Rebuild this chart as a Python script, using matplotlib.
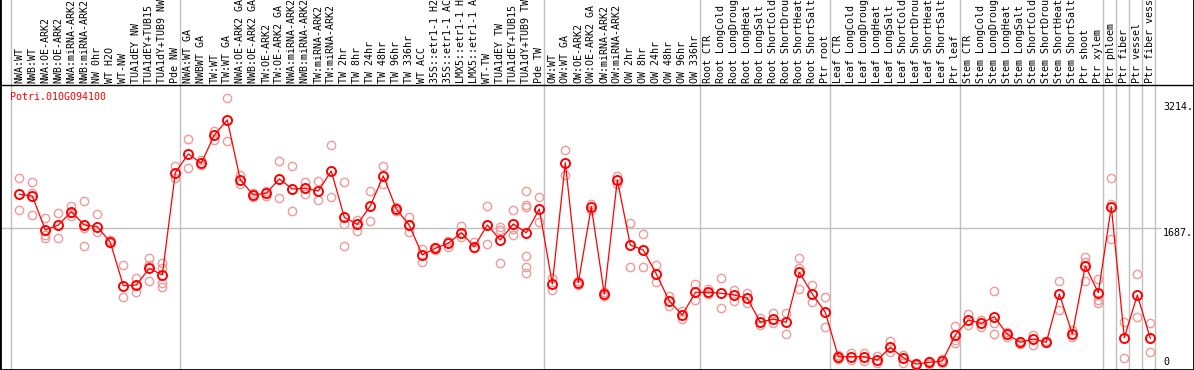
import numpy as np
import matplotlib
matplotlib.use('Agg')
import matplotlib.pyplot as plt

gene = 'Potri.010G094100'

samples = [
    'NWA:WT', 'NWB:WT', 'NWA:OE-ARK2', 'NWB:OE-ARK2', 'NWA:miRNA-ARK2', 'NWB:miRNA-ARK2',
    'NW 0hr', 'WT H2O', 'WT-NW', 'TUA1dEY NW', 'TUA1dEY+TUB15 NW', 'TUA1dY+TUB9 NW', 'Pde NW',
    'NWA:WT GA', 'NWBWT GA', 'TW:WT', 'TW:WT GA', 'NWA:OE-ARK2 GA', 'NWB:OE-ARK2 GA',
    'TW:OE-ARK2', 'TW:OE-ARK2 GA', 'NWA:miRNA-ARK2 GA', 'NWB:miRNA-ARK2 GA', 'TW:miRNA-ARK2',
    'TW:miRNA-ARK2 GA', 'TW 2hr', 'TW 8hr', 'TW 24hr', 'TW 48hr', 'TW 96hr', 'TW 336hr',
    'WT ACC', '35S::etr1-1 H2O', '35S::etr1-1 ACC', 'LMX5::etr1-1 H2O', 'LMX5::etr1-1 ACC',
    'WT-TW', 'TUA1dEY TW', 'TUA1dEY+TUB15 TW', 'TUA1dY+TUB9 TW', 'Pde TW',
    'OW:WT', 'OW:WT GA', 'OW:OE-ARK2', 'OW:OE-ARK2 GA', 'OW:miRNA-ARK2', 'OW:miRNA-ARK2 GA',
    'OW 2hr', 'OW 8hr', 'OW 24hr', 'OW 48hr', 'OW 96hr', 'OW 336hr',
    'Root CTR', 'Root LongCold', 'Root LongDrought', 'Root LongHeat', 'Root LongSalt',
    'Root ShortCold', 'Root ShortDrought', 'Root ShortHeat', 'Root ShortSalt', 'Ptr root',
    'Leaf CTR', 'Leaf LongCold', 'Leaf LongDrought', 'Leaf LongHeat', 'Leaf LongSalt',
    'Leaf ShortCold', 'Leaf ShortDrought', 'Leaf ShortHeat', 'Leaf ShortSalt', 'Ptr leaf',
    'Stem CTR', 'Stem LongCold', 'Stem LongDrought', 'Stem LongHeat', 'Stem LongSalt',
    'Stem ShortCold', 'Stem ShortDrought', 'Stem ShortHeat', 'Stem ShortSalt', 'Ptr shoot',
    'Ptr xylem', 'Ptr phloem', 'Ptr fiber', 'Ptr vessel', 'Ptr fiber vessel',
]

means = [
    2097, 2076, 1663, 1724, 1885, 1724, 1703, 1514, 987, 995, 1198, 1117, 2359,
    2586, 2473, 2816, 2999, 2270, 2088, 2109, 2282, 2161, 2169, 2137, 2379, 1817, 1732,
    1955, 2319, 1918, 1720, 1360, 1441, 1502, 1630, 1460, 1724, 1542, 1736, 1630, 1918,
    1008, 2480, 1023, 1946, 883, 2270, 1481, 1420, 1129, 801, 631, 907,
    907, 895, 874, 834, 543, 583, 543, 1150, 886, 664,
    125, 125, 125, 85, 239, 113, 36, 57, 73, 388,
    571, 531, 611, 397, 300, 340, 300, 886, 401, 1226, 902,
    1946, 356, 874, 348,
]

replicates = [
    [2291, 1906], [2242, 2116, 1845], [1805, 1603, 1570], [1866, 1562],
    [1955, 1873, 1827], [2015, 1684, 1469], [1854, 1643], [1542, 1505],
    [1238, 853], [1084, 914], [1327, 1238, 1044], [1263, 1202, 1020, 975],
    [2440, 2291],
    [2764, 2412], [2513, 2452], [2869, 2756], [3262, 2744], [2331, 2222],
    [2110, 2066], [2140, 2080], [2501, 2048], [2440, 1897], [2250, 2097],
    [2258, 2027], [2695, 2060], [2250, 1736, 1469], [1785, 1736, 1655],
    [2137, 1772], [2440, 2218], [1940, 1895], [1821, 1724, 1635],
    [1429, 1278], [1460, 1420], [1533, 1460], [1712, 1582], [1521, 1441],
    [1955, 1724, 1493], [1703, 1663, 1259], [1906, 1672, 1603],
    [2137, 1967, 1946, 1348, 1218, 1145], [2060, 1764],
    [1077, 935], [2634, 2331], [1050, 1000], [1979, 1906], [914, 862],
    [2322, 2222], [1752, 1210], [1615, 1210], [1238, 1028], [862, 741],
    [683, 579], [1008, 813],
    [943, 886], [1077, 713], [935, 805], [902, 781], [598, 510], [652, 531],
    [659, 397], [1327, 1206, 943], [995, 793], [846, 482],
    [146, 118, 97], [174, 85], [166, 76], [134, 52], [319, 186], [146, 52],
    [49, 24], [73, 36], [97, 49], [501, 328, 295],
    [643, 510], [571, 489], [923, 531, 397], [429, 361], [315, 280],
    [388, 267], [315, 290], [1044, 692], [449, 368], [1339, 1278, 1044],
    [1065, 813, 781],
    [2291, 1975, 1550], [543, 113], [1129, 611], [531, 178],
]

group_ends = [-1, 12, 40, 52, 62, 72, 83, 84, 85, 86, 87]
grid_value = 1687
tick_values = [3214, 1687, 0]
tick_labels = ['3214.', '1687.', '0']

x = np.arange(len(samples))
mono = 'DejaVu Sans Mono'

fig = plt.figure(figsize=(11.94, 3.70), dpi=100)
ax = fig.add_axes([0, 0, 1, 1])
ax.set_xlim(-1.485, 90.36)
ax.set_ylim(-36, 4454)

header = 3423
for e in group_ends:
    ax.axvline(e + 0.36, color='#c0c0c0', lw=1.0, zorder=1)
ax.plot([-1.5, 87.75], [grid_value, grid_value], color='#c0c0c0', lw=1.0, zorder=1)
ax.axhline(header, color='black', lw=1.0, zorder=2)

for i, reps in enumerate(replicates):
    ax.plot([i] * len(reps), reps, 'o', ms=6, mfc='none', mec='#f09a9a', mew=1.0, zorder=3)

ax.plot(x, means, '-', color='red', lw=0.9, zorder=4)
ax.plot(x, means, 'o', ms=6.5, mfc='none', mec='red', mew=1.4, zorder=5)

for i, name in enumerate(samples):
    ax.text(i, header + 25, name, rotation=90, ha='center', va='bottom',
            family=mono, fontsize=7.2, color='black')

ax.text(-0.715, 3338, gene, ha='left', va='top', family=mono, fontsize=7.2, color='red')

for v, lab in zip(tick_values, tick_labels):
    ax.text(87.98, v, lab, ha='left', va='bottom' if v == 0 else 'top',
            family=mono, fontsize=7.2, color='black')

ax.set_xticks([])
ax.set_yticks([])
for s in ax.spines.values():
    s.set_color('black')
    s.set_linewidth(2)
ax.spines['top'].set_visible(False)

plt.savefig('out.png', dpi=100)
